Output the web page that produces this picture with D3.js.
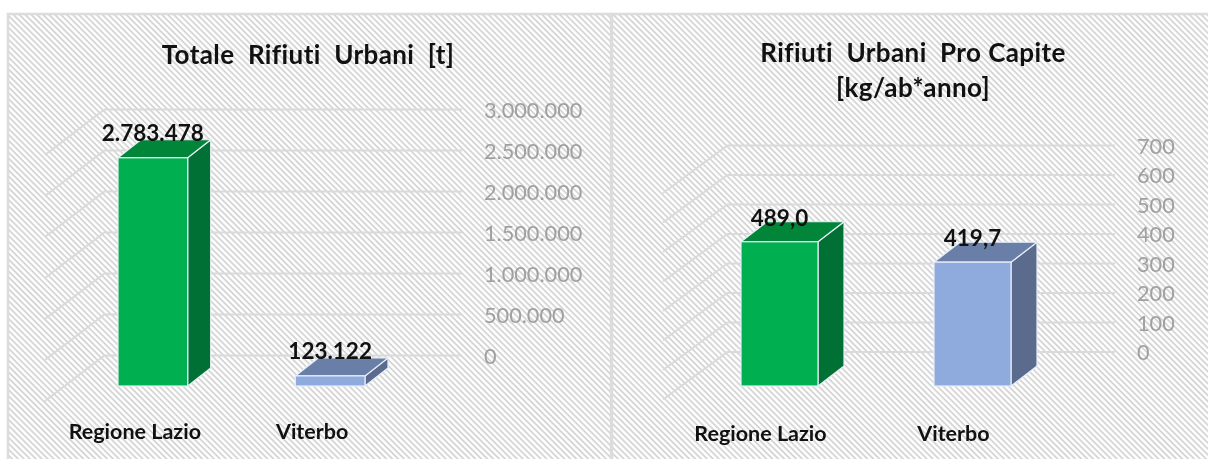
<!DOCTYPE html>
<html>
<head>
<meta charset="utf-8">
<script src="https://cdn.jsdelivr.net/npm/d3@7"></script>
<style>
    html, body { margin: 0; padding: 0; background: #fff; overflow: hidden; }
    svg { display: block; filter: blur(0.45px); }
    text { font-family: Lato, "Open Sans", sans-serif; white-space: pre; }
    .title { font-size: 26px; font-weight: 700; letter-spacing: 0.4px; fill: #111; text-anchor: middle; }
    .value { font-size: 22.5px; font-weight: 700; fill: #111; text-anchor: middle; }
    .cat { font-size: 21.5px; font-weight: 700; fill: #111; text-anchor: middle; }
    .axis text { font-size: 21.7px; fill: #a0a0a0; font-family: Lato, sans-serif; }
    .axis line, .slant { stroke: #dadada; stroke-width: 2; fill: none; }
    .axis .domain { display: none; }
</style>
</head>
<body>
<script>
// ---- data
const categories = ["Regione Lazio", "Viterbo"];
const totalValues = [2783478, 123122];
const totalTicks = [0, 500000, 1000000, 1500000, 2000000, 2500000, 3000000];
const capitaValues = [489.0, 419.7];
const capitaTicks = [0, 100, 200, 300, 400, 500, 600, 700];

const W = 1208;
const H = 459;

const greens = { front: "#00b050", side: "#007034", top: "#008539" };
const blues = { front: "#8faadc", side: "#5a6b8e", top: "#6a7fa8" };
const palette = [greens, blues];

// italian number format
const it = d3.formatLocale({ decimal: ",", thousands: ".", grouping: [3], currency: ["", "€"] });

const svg = d3.select("body").append("svg").attr("width", W).attr("height", H);

// hatched chart background
const hatch = svg.append("defs").append("pattern")
    .attr("id", "hatch")
    .attr("width", 4.2)
    .attr("height", 4.2)
    .attr("patternUnits", "userSpaceOnUse")
    .attr("patternTransform", "rotate(45)");
hatch.append("rect").attr("width", 4.2).attr("height", 4.2).attr("fill", "#ffffff");
hatch.append("rect").attr("width", 4.2).attr("height", 1.8).attr("fill", "#d5d5d5");

function drawPanel(cfg) {
    const g = svg.append("g");

    g.append("rect")
        .attr("x", cfg.panel[0])
        .attr("y", 14)
        .attr("width", cfg.panel[1] - cfg.panel[0])
        .attr("height", H)
        .attr("fill", "url(#hatch)")
        .attr("stroke", "#dcdcdc")
        .attr("stroke-width", 2.5);

    // SCALES
    const yScale = d3.scaleLinear().domain(cfg.domain).range([cfg.y0, cfg.y1]);
    const xScale = d3.scaleBand()
        .domain(categories)
        .range(cfg.barRange)
        .paddingInner(cfg.padding)
        .paddingOuter(0);

    // AXIS with gridlines on the back wall
    const yAxis = d3.axisRight(yScale)
        .tickValues(cfg.ticks)
        .tickFormat(cfg.format)
        .tickSize(-(cfg.gridEnd - cfg.gridStart))
        .tickPadding(22);
    const axisG = g.append("g")
        .attr("class", "axis")
        .attr("transform", `translate(${cfg.gridEnd},0)`)
        .call(yAxis);
    axisG.selectAll("text").attr("dy", "0.38em");

    // side wall lines going towards the viewer
    g.selectAll(".slant")
        .data(cfg.ticks)
        .enter()
        .append("line")
        .attr("class", "slant")
        .attr("x1", cfg.gridStart)
        .attr("y1", (d) => yScale(d))
        .attr("x2", cfg.gridStart - cfg.wallDepth[0])
        .attr("y2", (d) => yScale(d) + cfg.wallDepth[1]);

    // BARS
    const base = yScale(0) + cfg.barShift;
    const bars = g.selectAll(".bar")
        .data(cfg.values)
        .enter()
        .append("g")
        .attr("class", "bar");

    const dx = cfg.barDepth[0];
    const dy = cfg.barDepth[1];
    const edge = (sel) => sel.attr("stroke", "#e8eef8").attr("stroke-width", 1.2);

    bars.append("path")
        .attr("d", (d, i) => {
            const x = xScale(categories[i]) + xScale.bandwidth();
            const top = yScale(d) + cfg.barShift;
            return `M${x},${top}l${dx},${-dy}V${base - dy}L${x},${base}Z`;
        })
        .attr("fill", (d, i) => palette[i].side)
        .call(edge);

    bars.append("path")
        .attr("d", (d, i) => {
            const x = xScale(categories[i]);
            const top = yScale(d) + cfg.barShift;
            return `M${x},${top}l${dx},${-dy}h${xScale.bandwidth()}l${-dx},${dy}Z`;
        })
        .attr("fill", (d, i) => palette[i].top)
        .call(edge);

    bars.append("rect")
        .attr("x", (d, i) => xScale(categories[i]))
        .attr("y", (d) => yScale(d) + cfg.barShift)
        .attr("width", xScale.bandwidth())
        .attr("height", (d) => base - yScale(d) - cfg.barShift)
        .attr("fill", (d, i) => palette[i].front)
        .call(edge);

    // VALUE LABELS
    bars.append("text")
        .attr("class", "value")
        .attr("x", (d, i) => xScale(categories[i]) + xScale.bandwidth() / 2)
        .attr("y", (d) => yScale(d) + cfg.barShift - cfg.labelGap)
        .text(cfg.valueFormat);

    // CATEGORY LABELS
    g.selectAll(".cat")
        .data(categories)
        .enter()
        .append("text")
        .attr("class", "cat")
        .attr("x", (d) => xScale(d) + xScale.bandwidth() / 2 - cfg.catShift)
        .attr("y", cfg.catY)
        .text((d) => d);

    // TITLE
    g.selectAll(".title")
        .data(cfg.title)
        .enter()
        .append("text")
        .attr("class", "title")
        .attr("x", cfg.titleX)
        .attr("y", (d, i) => cfg.titleY + i * 35)
        .text((d) => d);
}

drawPanel({
    panel: [8, 611],
    domain: [0, 3000000],
    ticks: totalTicks,
    values: totalValues,
    format: it.format(",d"),
    valueFormat: it.format(",d"),
    y0: 355,
    y1: 109,
    gridStart: 105,
    gridEnd: 462,
    wallDepth: [60, 46],
    barRange: [118, 365],
    padding: 0.607,
    barShift: 31,
    barDepth: [23, 18],
    labelGap: 17,
    catShift: 18,
    catY: 439,
    title: ["Totale  Rifiuti  Urbani  [t]"],
    titleX: 308,
    titleY: 64,
});

drawPanel({
    panel: [612, 1230],
    domain: [0, 700],
    ticks: capitaTicks,
    values: capitaValues,
    format: it.format("d"),
    valueFormat: it.format(".1f"),
    y0: 351.5,
    y1: 145,
    gridStart: 728,
    gridEnd: 1115,
    wallDepth: [65, 48],
    barRange: [741, 1011],
    padding: 0.601,
    barShift: 34.5,
    barDepth: [26, 20],
    labelGap: 16,
    catShift: 19,
    catY: 441,
    title: ["Rifiuti  Urbani  Pro Capite", "[kg/ab*anno]"],
    titleX: 913,
    titleY: 62,
});
</script>
</body>
</html>
